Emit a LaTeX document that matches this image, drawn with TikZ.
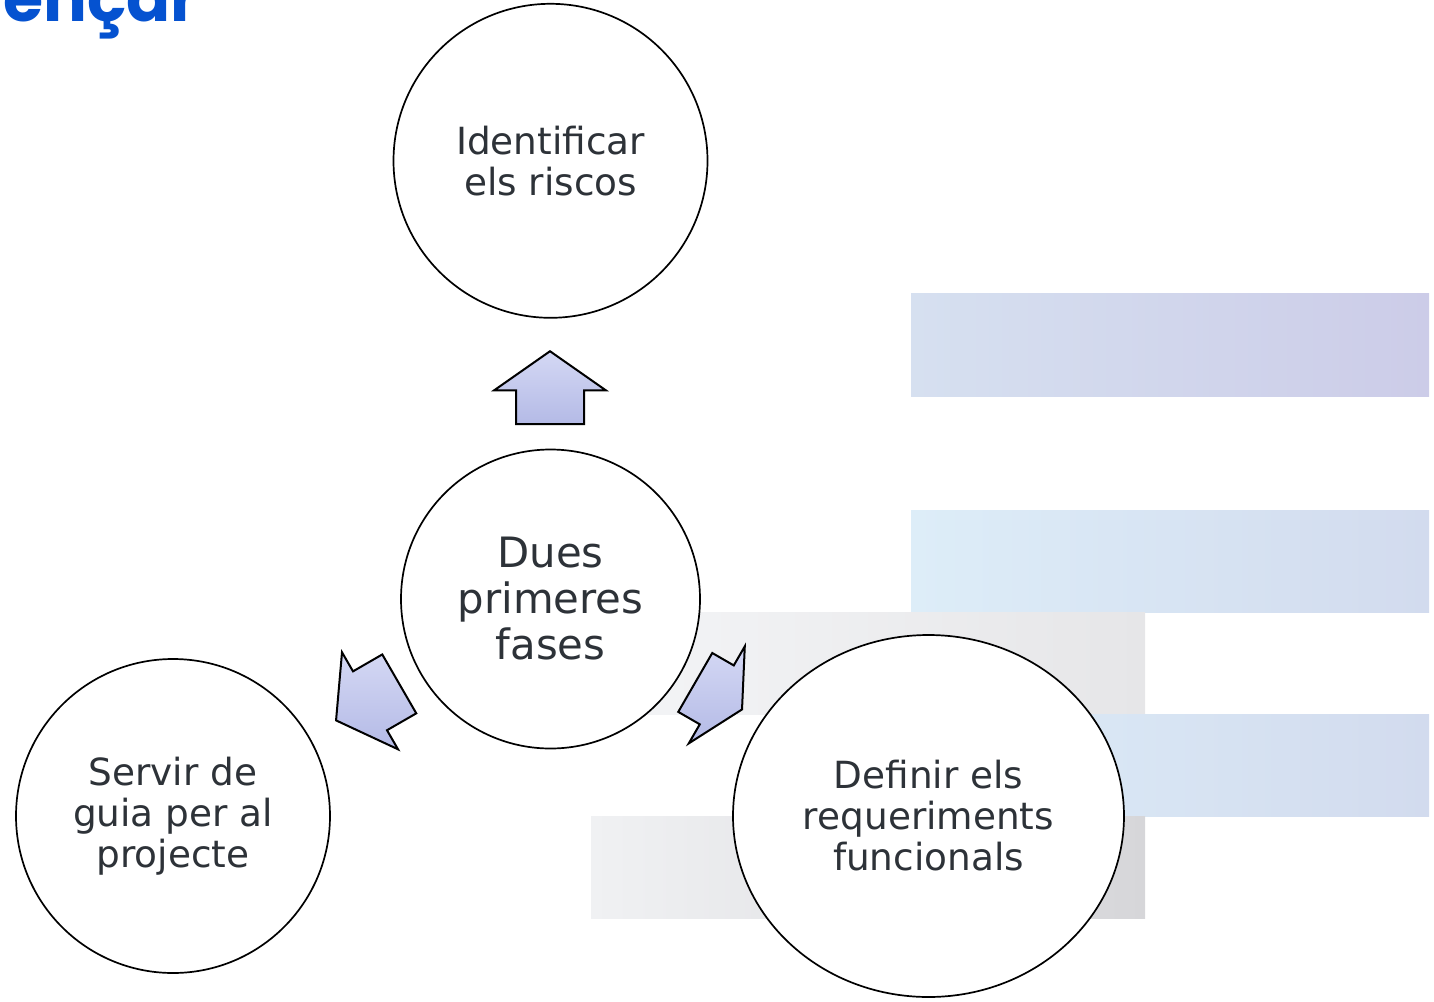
\documentclass[tikz,border=0pt]{standalone}
\usepackage{fontspec}
\setmainfont{DejaVu Sans}
\newfontfamily\titlefont{Poppins}
\usepackage{xcolor}
\usetikzlibrary{positioning}
\usetikzlibrary{shapes.geometric}
\usetikzlibrary{shapes.arrows}
\definecolor{textgrey}{RGB}{45,50,56}
\definecolor{titleblue}{RGB}{5,82,208}
\definecolor{arrowfill}{RGB}{180,186,230}
\definecolor{arrowlight}{RGB}{212,216,244}
\tikzset{main node/.style={circle,draw,fill=white,line width=0.85pt,inner sep=0pt,minimum size=157pt,align=center,text=textgrey,font=\fontsize{18.7}{20.5}\selectfont},
  fase arrow/.style={single arrow,draw,line width=1pt,top color=arrowlight,bottom color=arrowfill,inner xsep=0pt,inner ysep=16.5pt,minimum height=36.5pt,single arrow head extend=11pt,single arrow tip angle=110},}

\begin{document}
\begin{tikzpicture}[x=0.5pt,y=-0.5pt]

    \useasboundingbox (0,0) rectangle (1434,1001);
    \clip (0,0) rectangle (1434,1001);

    % bands in the back
    \shade[left color={rgb,255:red,214;green,224;blue,240},right color={rgb,255:red,204;green,204;blue,232}] (911,293) rectangle (1429,396);
    \shade[left color={rgb,255:red,221;green,237;blue,248},right color={rgb,255:red,210;green,219;blue,238}] (911,510) rectangle (1429,612);
    \shade[left color={rgb,255:red,244;green,245;blue,247},right color={rgb,255:red,230;green,230;blue,232}] (591,612) rectangle (1145,714);
    \shade[left color={rgb,255:red,221;green,237;blue,248},right color={rgb,255:red,210;green,219;blue,238}] (911,714) rectangle (1429,816);
    \shade[left color={rgb,255:red,240;green,241;blue,243},right color={rgb,255:red,214;green,214;blue,217}] (591,816) rectangle (1145,918);

    \node[anchor=base east,inner sep=0pt,text=titleblue,font=\titlefont\bfseries\fontsize{32.5}{30}\selectfont] (titol) at (199,21) {Començar};

    \node[main node,minimum size=149.5pt,font=\fontsize{20.9}{23}\selectfont] (1) at (550.5,599) {Dues\\primeres\\fases};
    \node[main node] (2) [above = 65pt of 1] {Identificar\\els riscos};
    \node[main node] (3) at (173,816) {Servir de\\guia per al\\projecte};
    \node[main node,ellipse,minimum width=195.5pt,minimum height=181pt] (4) at (928.5,816) {Definir els\\requeriments\\funcionals};

    \node[fase arrow,rotate=90,anchor=tip] (a2) at (550,350) {};
    \node[fase arrow,rotate=210,anchor=tip] (a3) at (335,721) {};
    \node[fase arrow,rotate=-30,anchor=tip,minimum height=27pt,single arrow tip angle=125] (a4) at (743,710) {};

\end{tikzpicture}
\end{document}
